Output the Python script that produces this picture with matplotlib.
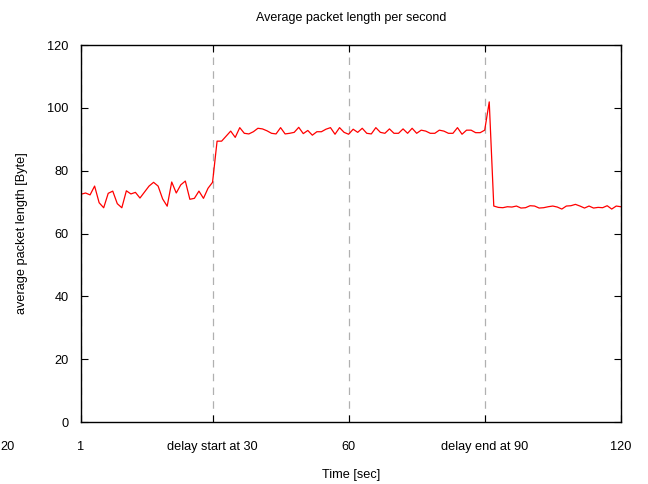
import matplotlib.pyplot as plt
import numpy as np

plt.rcParams["font.family"] = ["Liberation Sans", "DejaVu Sans"]
plt.rcParams["font.size"] = 9.2

# average packet length per second, t = 1..120
seconds = np.arange(1, 121)
before_delay = [72.5, 72.9, 72.3, 75.1, 69.8, 68.2, 72.8, 73.5, 69.5, 68.2,
                73.6, 72.6, 73.1, 71.3, 73.2, 75.1, 76.3, 75.1, 71.0, 68.7,
                76.4, 72.9, 75.5, 76.7, 70.9, 71.2, 73.5, 71.2, 74.4, 76.3]
during_delay = [89.4, 89.4, 91.0, 92.6, 90.6, 93.7, 91.9, 91.7, 92.4, 93.5,
                93.3, 92.7, 91.9, 91.7, 93.7, 91.7, 91.9, 92.2, 93.8, 91.8,
                92.8, 91.3, 92.4, 92.4, 93.2, 93.7, 91.6, 93.7, 92.2, 91.6,
                93.2, 92.2, 93.5, 91.9, 91.7, 93.7, 92.2, 91.9, 93.3, 91.9,
                91.9, 93.3, 91.9, 93.5, 91.9, 92.9, 92.6, 91.9, 91.9, 92.9,
                92.6, 91.9, 91.9, 93.7, 91.6, 92.9, 92.9, 92.1, 92.1, 92.9,
                101.9]
after_delay = [68.75, 68.32, 68.22, 68.53, 68.43, 68.75, 68.11, 68.22, 68.85,
               68.75, 68.11, 68.22, 68.53, 68.75, 68.43, 67.79, 68.75, 68.85,
               69.28, 68.75, 68.11, 68.75, 68.11, 68.32, 68.22, 68.85, 67.79,
               68.75, 68.53]
avg_len = before_delay + during_delay + after_delay

xtick_pos = [1, 30, 60, 90, 120]
xtick_labels = ["1", "delay start at 30", "60", "delay end at 90", "120"]
ytick_pos = [0, 20, 40, 60, 80, 100, 120]

fig = plt.figure(figsize=(6.48, 4.84), dpi=100)
ax = fig.add_axes([0.125, 0.128, 0.833, 0.779])

ax.plot(seconds, avg_len, color="red", lw=0.9)

ax.set_xlim(1, 120)
ax.set_ylim(0, 120)
ax.set_xticks(xtick_pos)
ax.set_xticklabels(xtick_labels)
ax.set_yticks(ytick_pos)
ax.tick_params(direction="in", top=True, right=True, length=5, width=0.8,
               pad=9)
ax.tick_params(axis="x", pad=14)
for side in ax.spines.values():
    side.set_linewidth(1.0)

ax.grid(axis="x", color="#b0b0b0", linestyle=(0, (6, 5)), lw=0.9)

ax.set_title("Average packet length per second", fontsize=9, pad=17)
ax.set_xlabel("Time [sec]", labelpad=11)
ax.set_ylabel("average packet length [Byte]", labelpad=14)

# leftover label at the far left edge
fig.text(0.0, 0.076, "20", ha="left", va="center")

fig.savefig("out.png", dpi=100)
